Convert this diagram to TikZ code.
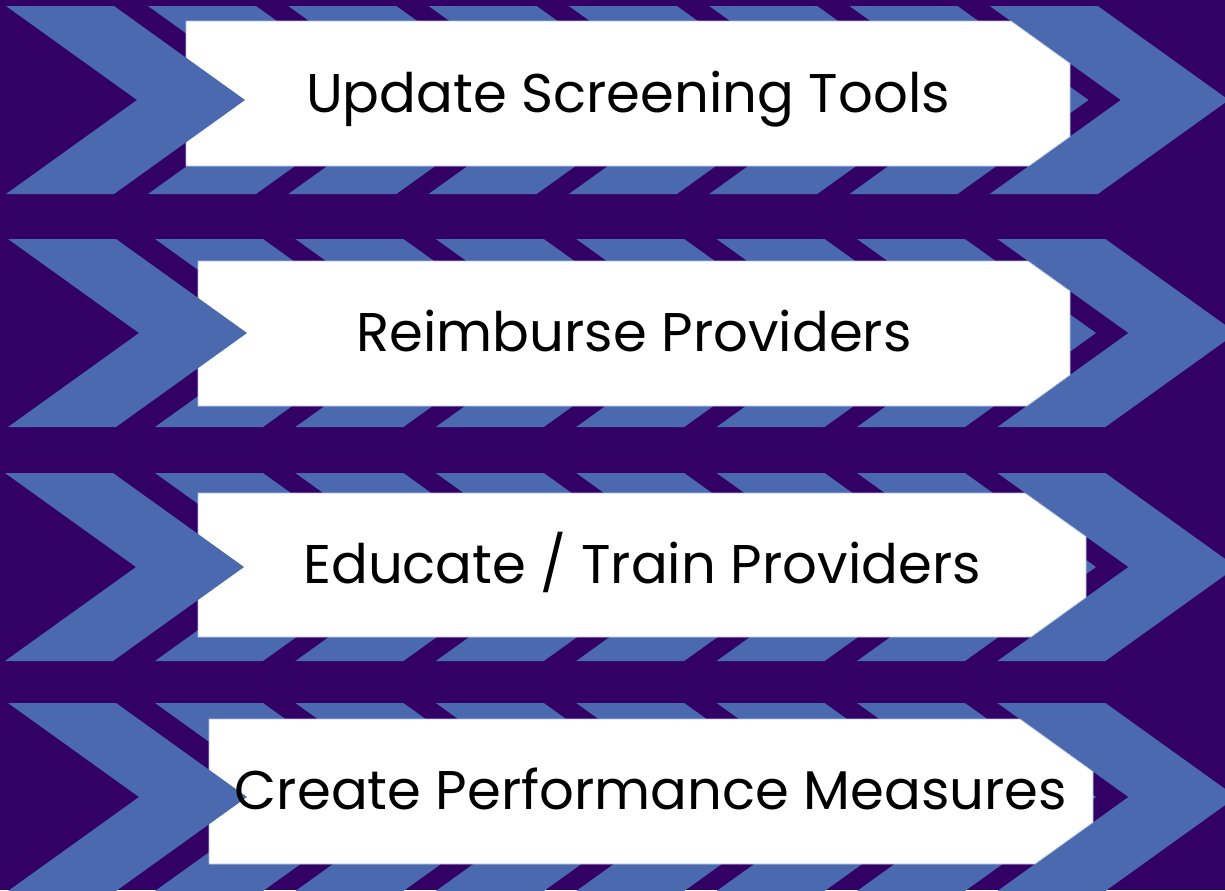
\documentclass[tikz,border=0pt]{standalone}
\usepackage{fontspec}
\setmainfont{Poppins}
\definecolor{bgpurple}{RGB}{51,0,102}
\definecolor{chevblue}{RGB}{74,105,175}
\definecolor{boxrim}{RGB}{175,192,228}
\tikzset{
  chevron/.pic={\fill[chevblue] (0,0) -- (108,0) -- (239,94) -- (108,188) -- (0,188) -- (131,94) -- cycle;},
  stepbox/.style={fill=white, draw=boxrim, line width=0.4pt},
  steplabel/.style={anchor=base, inner sep=0pt, text=black, font=\fontsize{31}{36}\selectfont}
}
\begin{document}
\begin{tikzpicture}[x=0.02cm, y=-0.02cm]
  \fill[bgpurple] (0,0) rectangle (1225,890);
  \useasboundingbox (0,0) rectangle (1225,890);
  % row 1
  \foreach \k in {0,...,6} \pic at ({148+140.3*\k},6) {chevron};
  \draw[stepbox] (186,21) -- (1011,21) -- (1070,63.4) -- (1070,136.6) -- (1029,166) -- (186,166) -- cycle;
  \pic at (6,6) {chevron};
  \node[steplabel] (update) at (628,112) {Update Screening Tools};
  % row 2
  \foreach \k in {0,...,6} \pic at ({155+140.4*\k},239) {chevron};
  \draw[stepbox] (198,261) -- (1028,261) -- (1070,291) -- (1070,375) -- (1027,406) -- (198,406) -- cycle;
  \pic at (8,239) {chevron};
  \node[steplabel] (reimburse) at (634,351) {Reimburse Providers};
  % row 3
  \foreach \k in {0,...,6} \pic at ({155+140.4*\k},473) {chevron};
  \draw[stepbox] (198,493) -- (1025,493) -- (1086,536.6) -- (1086,597.4) -- (1031,637) -- (198,637) -- cycle;
  \pic at (5,473) {chevron};
  \node[steplabel] (educate) at (642,583) {Educate / Train Providers};
  % row 4
  \foreach \k in {0,...,6} \pic at ({155+140.4*\k},703) {chevron};
  \draw[stepbox] (209,719) -- (1020,719) -- (1093,771.6) -- (1093,822.4) -- (1035,864) -- (209,864) -- cycle;
  \pic at (8,703) {chevron};
  \node[steplabel] (measures) at (651,809) {Create Performance Measures};
\end{tikzpicture}
\end{document}
